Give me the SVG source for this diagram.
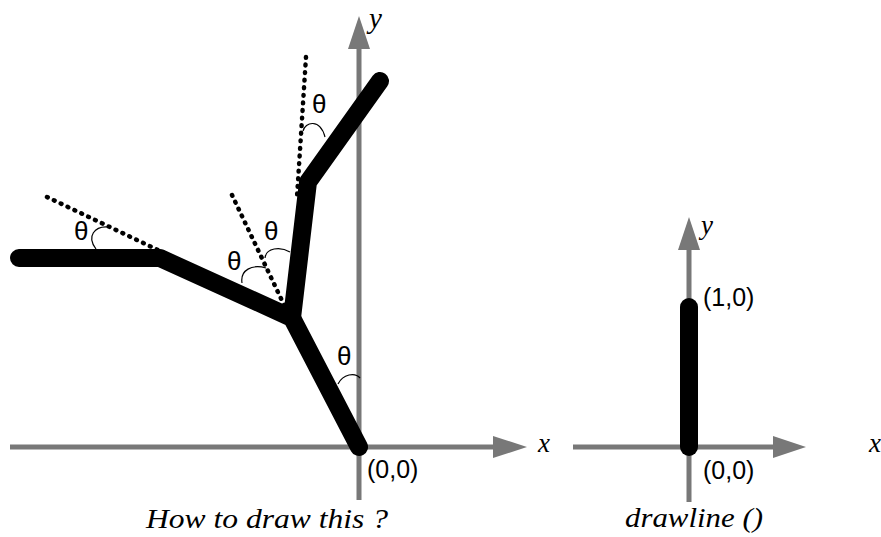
<svg xmlns="http://www.w3.org/2000/svg" width="881" height="537" viewBox="0 0 881 537">
<style>
.axis{stroke:#787878;stroke-width:5;fill:none}
.head{fill:#787878}
.arm{stroke:#000;stroke-width:18;stroke-linecap:round;stroke-linejoin:round;fill:none}
.dash{stroke:#000;stroke-width:4.5;stroke-linecap:round;stroke-dasharray:0.8 6.8;fill:none}
.arc{stroke:#000;stroke-width:1.2;fill:none}
.lbl{font-family:"Liberation Serif",serif;font-style:italic;font-size:27px;fill:#000}
.coord{font-family:"Liberation Sans",Arial,sans-serif;font-size:25px;fill:#000}
.th{font-family:"Liberation Sans",Arial,sans-serif;font-size:26px;fill:#000}
</style>
<g id="left-axes">
<line class="axis" x1="10" y1="447" x2="497" y2="447"/>
<polygon class="head" points="493,436 527,447 493,458"/>
<line class="axis" x1="359" y1="500" x2="359" y2="45"/>
<polygon class="head" points="348,49 359,16 370,49"/>
<text class="lbl" x="369" y="28" style="font-size:29px">y</text>
<text class="lbl" x="538" y="452">x</text>
<text class="coord" x="367" y="478">(0,0)</text>
</g>
<g id="arm">
<polyline class="arm" points="19,258 160,258 292,318 359,447"/>
<polyline class="arm" points="292,318 308,182 380,81"/>
</g>
<g id="construction">
<line class="dash" x1="306" y1="57" x2="297" y2="197"/>
<line class="dash" x1="232" y1="195" x2="285" y2="307"/>
<line class="dash" x1="47" y1="197" x2="183" y2="262"/>
<path class="arc" d="M303,131 C305,122 320,118 325,137"/>
<path class="arc" d="M108,227 C95,226 86,236 96,249"/>
<path class="arc" d="M242,283 C240,270 252,264 266,268"/>
<path class="arc" d="M265,258 C266,248 280,246 290,252"/>
<path class="arc" d="M338,384 C343,374 355,372 360,378"/>
<text class="th" x="312" y="113">θ</text>
<text class="th" x="74" y="240">θ</text>
<text class="th" x="227" y="270">θ</text>
<text class="th" x="264" y="240">θ</text>
<text class="th" x="337" y="365">θ</text>
</g>
<g id="right-axes">
<line class="axis" x1="573" y1="447" x2="776" y2="447"/>
<polygon class="head" points="773,436 806,447 773,458"/>
<line class="axis" x1="689" y1="502" x2="689" y2="246"/>
<polygon class="head" points="678,250 689,217 700,250"/>
<text class="lbl" x="701" y="234">y</text>
<text class="lbl" x="869" y="452">x</text>
<text class="coord" x="703" y="306">(1,0)</text>
<text class="coord" x="703" y="479">(0,0)</text>
</g>
<g id="segment">
<line class="arm" x1="689" y1="307" x2="689" y2="447"/>
</g>
<text class="lbl" x="146" y="528" textLength="242" lengthAdjust="spacingAndGlyphs">How to draw this ?</text>
<text class="lbl" x="625" y="527" textLength="138" lengthAdjust="spacingAndGlyphs">drawline ()</text>
</svg>
